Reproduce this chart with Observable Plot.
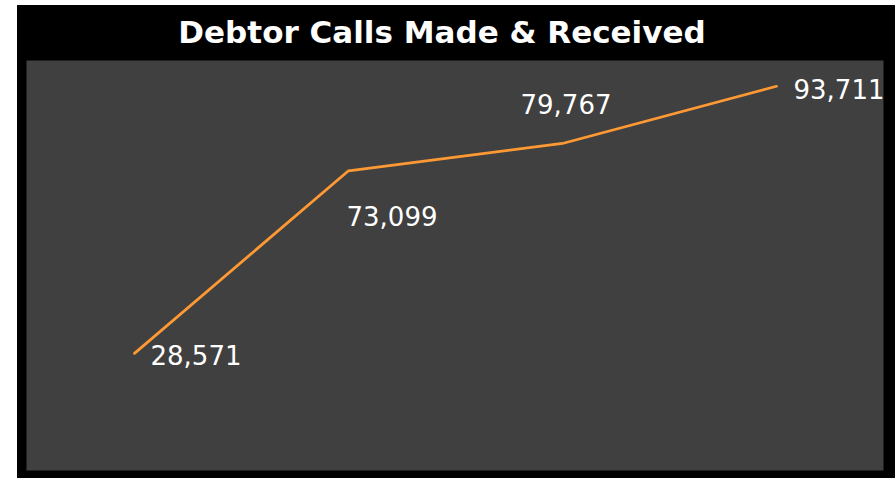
<!DOCTYPE html>
<html>
<head>
<meta charset="utf-8">
<script src="https://cdn.jsdelivr.net/npm/d3@7"></script>
<script src="https://cdn.jsdelivr.net/npm/@observablehq/plot@0.6"></script>
<style>
  html, body { margin: 0; padding: 0; background: #ffffff; }
  #frame { position: absolute; left: 17px; top: 5px; width: 878px; height: 473px; background: #000000; }
  #title { height: 55px; line-height: 55px; text-align: center; color: #ffffff; padding-right: 28px;
           font-family: "DejaVu Sans", sans-serif; font-weight: bold; font-size: 31px; }
  #chart svg { display: block; }
</style>
</head>
<body>
<div id="frame">
  <div id="title">Debtor Calls Made &amp; Received</div>
  <div id="chart"></div>
</div>
<script>
const periods = ["Period 1", "Period 2", "Period 3", "Period 4"];
const calls = [28571, 73099, 79767, 93711];

const data = periods.map((p, i) => ({period: p, calls: calls[i], i}));
const fmt = d3.format(",");

// label offsets relative to each point (styling only)
const labelStyle = [
  {dx: 16, dy: 3},
  {dx: -2, dy: 47},
  {dx: -42, dy: -38},
  {dx: 17, dy: 4}
];

const labelMarks = labelStyle.map((s, k) =>
  Plot.text(data.filter(d => d.i === k), {
    x: "period", y: "calls", text: d => fmt(d.calls),
    textAnchor: "start", dx: s.dx, dy: s.dy,
    fill: "#ffffff", fontSize: 26, fontFamily: "DejaVu Sans, sans-serif"
  })
);

const chart = Plot.plot({
  width: 878,
  height: 473 - 55,
  marginTop: 0,
  marginBottom: 8,
  marginLeft: 9,
  marginRight: 12,
  style: {background: "#000000", overflow: "visible"},
  x: {type: "point", domain: periods, padding: 0.5, axis: null},
  y: {domain: [0, 100000], axis: null},
  marks: [
    Plot.frame({fill: "#404040", stroke: null}),
    Plot.line(data, {x: "period", y: "calls", stroke: "#ff9933", strokeWidth: 2.75}),
    ...labelMarks
  ]
});
document.getElementById("chart").appendChild(chart);
</script>
</body>
</html>
